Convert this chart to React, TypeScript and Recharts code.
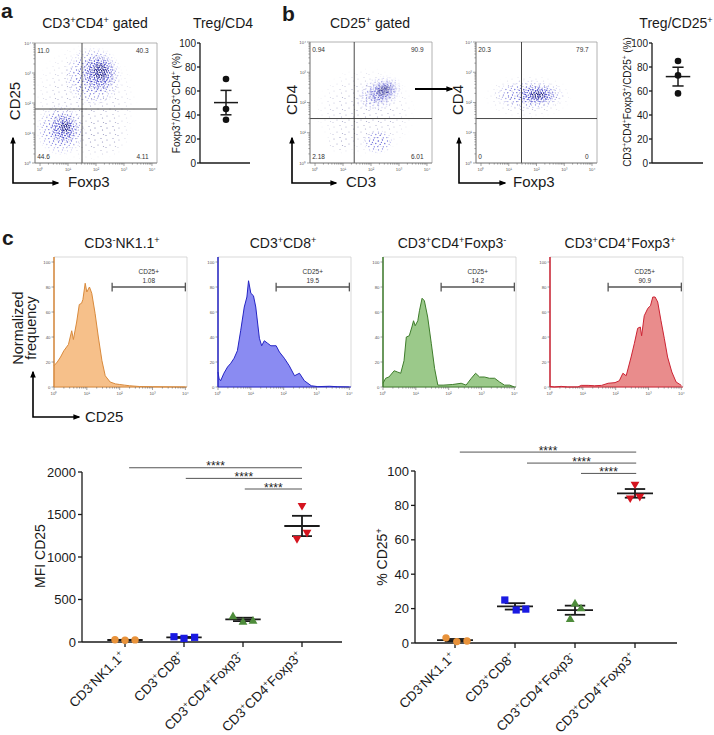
import React from 'react';
import {
  ScatterChart,
  ComposedChart,
  Scatter,
  Area,
  XAxis,
  YAxis,
  ReferenceLine,
  ReferenceArea,
} from 'recharts';

const FONT = '"Liberation Sans", Arial, Helvetica, sans-serif';
const INK = '#1a1a1a';

// ---- panel a / b : Treg frequencies (%) ----
const TREG_CD4 = [70, 45, 36];
const TREG_CD25 = [85, 73, 58];

// ---- flow plots : quadrant % (UL, UR, LL, LR) and gates (log10) ----
const QUAD_A = ['11.0', '40.3', '44.6', '4.11'];
const QUAD_B1 = ['0.94', '90.9', '2.18', '6.01'];
const QUAD_B2 = ['20.3', '79.7', '0', '0'];
const GATE_A = { x: 1.5, y: 1.8 };
const GATE_B1 = { x: 1.4, y: 1.47 };
const GATE_B2 = { x: 1.46, y: 1.47 };

// populations: centre and half spread in log10 units
const CLOUDS_A = [
  { cx: 1.6, cy: 2.0, rx: 1.9, ry: 2.0, kind: 'gray' },
  { cx: 2.3, cy: 0.9, rx: 0.9, ry: 0.75, kind: 'gray' },
  { cx: 1.9, cy: 2.9, rx: 1.05, ry: 1.0, kind: 'sparse' },
  { cx: 2.1, cy: 3.0, rx: 0.65, ry: 0.65, kind: 'dense' },
  { cx: 2.15, cy: 3.05, rx: 0.32, ry: 0.32, kind: 'core' },
  { cx: 0.75, cy: 1.1, rx: 0.9, ry: 0.85, kind: 'sparse' },
  { cx: 0.85, cy: 1.15, rx: 0.52, ry: 0.52, kind: 'dense' },
  { cx: 0.9, cy: 1.2, rx: 0.22, ry: 0.22, kind: 'core' },
];
const CLOUDS_B1 = [
  { cx: 1.8, cy: 1.7, rx: 1.8, ry: 1.5, kind: 'gray' },
  { cx: 2.3, cy: 2.3, rx: 0.9, ry: 0.55, rot: -25, kind: 'sparse' },
  { cx: 2.4, cy: 2.35, rx: 0.6, ry: 0.36, rot: -25, kind: 'dense' },
  { cx: 2.45, cy: 2.4, rx: 0.3, ry: 0.18, rot: -25, kind: 'core' },
  { cx: 2.25, cy: 0.7, rx: 0.55, ry: 0.4, kind: 'sparse' },
  { cx: 0.9, cy: 0.7, rx: 0.5, ry: 0.4, kind: 'gray' },
];
const CLOUDS_B2 = [
  { cx: 1.7, cy: 2.2, rx: 1.6, ry: 0.75, kind: 'gray' },
  { cx: 1.75, cy: 2.25, rx: 1.3, ry: 0.5, kind: 'sparse' },
  { cx: 2.0, cy: 2.25, rx: 0.75, ry: 0.32, kind: 'dense' },
  { cx: 2.05, cy: 2.25, rx: 0.34, ry: 0.16, kind: 'core' },
];

// ---- panel c histograms : log10 CD25 vs normalized frequency ----
const H_NK_X = [0, 0.1, 0.2, 0.3, 0.44, 0.54, 0.59, 0.69, 0.77, 0.84, 0.88, 0.95, 1.0, 1.08, 1.15, 1.25, 1.35, 1.46, 1.56, 1.71, 1.87, 2.0, 2.15, 2.3, 2.6, 3.0, 3.5, 4.0];
const H_NK_Y = [17, 20, 24, 29, 34, 45, 38, 52, 66, 67, 70, 83, 76, 80, 75, 59, 40, 21, 9, 4, 2.5, 2, 1.5, 1, 0.4, 0.2, 0.1, 0];
const H_CD8_X = [0, 0.03, 0.08, 0.18, 0.29, 0.39, 0.49, 0.59, 0.69, 0.8, 0.88, 0.93, 1.0, 1.08, 1.15, 1.26, 1.33, 1.41, 1.51, 1.61, 1.77, 1.87, 2.02, 2.17, 2.33, 2.48, 2.63, 2.84, 3.04, 3.4, 3.65, 4.0];
const H_CD8_Y = [12, 7, 5, 11, 16, 19, 23, 29, 45, 64, 72, 85, 75, 73, 64, 39, 33, 37, 35, 33, 33, 28, 23, 17, 9, 11, 5, 1, 0.3, 0.6, 0.2, 0];
const H_FOXN_X = [0, 0.08, 0.18, 0.34, 0.44, 0.54, 0.64, 0.71, 0.8, 0.88, 0.93, 0.98, 1.06, 1.11, 1.19, 1.26, 1.36, 1.47, 1.57, 1.67, 1.83, 2.12, 2.38, 2.53, 2.69, 2.82, 2.94, 3.09, 3.24, 3.4, 3.55, 3.7, 3.86, 4.0];
const H_FOXN_Y = [3, 7, 8, 13, 12, 11, 21, 40, 41, 48, 53, 49, 53, 61, 71, 69, 56, 35, 15, 1.5, 1.5, 2, 3, 1.5, 7, 11, 8, 8, 7, 7, 4, 1.5, 1.5, 0];
const H_FOXP_X = [0, 0.13, 0.34, 0.54, 0.85, 0.95, 1.16, 1.36, 1.57, 1.77, 1.98, 2.11, 2.22, 2.32, 2.47, 2.57, 2.67, 2.75, 2.79, 2.87, 2.98, 3.06, 3.13, 3.2, 3.28, 3.38, 3.48, 3.58, 3.71, 3.84, 4.0];
const H_FOXP_Y = [0.5, 0, 0.5, 0, 0, 1.3, 1.3, 1, 1.3, 3, 3.5, 5, 11, 9, 24, 35, 47, 48, 41, 57, 63, 65, 72, 72, 68, 53, 39, 24, 12, 4, 1.3];

const GROUPS = ['CD3{-}NK1.1{+}', 'CD3{+}CD8{+}', 'CD3{+}CD4{+}Foxp3{-}', 'CD3{+}CD4{+}Foxp3{+}'];
const GATE_PCT = ['1.08', '19.5', '14.2', '90.9'];

// ---- panel c summary ----
const MFI = [
  [26, 20, 25],
  [62, 43, 55],
  [305, 240, 252],
  [1210, 1600, 1285],
];
const MFI_SPREAD = [
  [-0.17, 0, 0.17],
  [-0.17, 0, 0.18],
  [-0.17, 0, 0.17],
  [-0.085, 0, 0.085],
];
const PCT = [
  [3, 0.8, 1.2],
  [25, 19.2, 19.7],
  [14, 23, 20.2],
  [84, 92, 85],
];
const PCT_SPREAD = [
  [-0.15, 0.03, 0.2],
  [-0.17, 0.02, 0.18],
  [-0.08, 0, 0.1],
  [-0.08, 0, 0.08],
];
// significance brackets: [from group, to group, height]
const MFI_SIG = [
  [0.07, 3.0, 2050],
  [1.03, 3.0, 1925],
  [2.03, 3.0, 1800],
];
const PCT_SIG = [
  [0.08, 3.02, 111],
  [1.2, 3.02, 104.6],
  [2.1, 3.02, 98.6],
];

const GROUP_COLORS = ['#e8923a', '#1a1ae2', '#4e8c3b', '#d5141f'];
const HIST_STROKE = ['#d98a3c', '#2424c4', '#3f7d2c', '#cc2333'];
const HIST_FILL = ['#f6c08a', '#8a8bf2', '#9bc98a', '#e98c8c'];

const LOG_TICKS: number[] = [];
for (let d = 0; d < 4; d++) for (let m = 1; m < 10; m++) LOG_TICKS.push(d + Math.log10(m));
LOG_TICKS.push(4);
const SUPS = ['\u2070', '\u00b9', '\u00b2', '\u00b3', '\u2074'];

const mean = (a: number[]) => a.reduce((s, v) => s + v, 0) / a.length;
const sem = (a: number[]) => {
  const m = mean(a);
  const sd = Math.sqrt(a.reduce((s, v) => s + (v - m) * (v - m), 0) / (a.length - 1));
  return sd / Math.sqrt(a.length);
};

// "CD3{+}" -> superscript tspans
function rich(label: string, fs: number) {
  const parts = label.split(/\{([^}]*)\}/);
  const out: React.ReactNode[] = [];
  let cur = 0;
  parts.forEach((p, i) => {
    if (!p) return;
    const up = i % 2 === 1;
    const target = up ? -fs * 0.38 : 0;
    out.push(
      <tspan key={i} dy={target - cur} fontSize={up ? fs * 0.65 : fs}>
        {p}
      </tspan>
    );
    cur = target;
  });
  return out;
}

const isMajor = (v: number) => Math.abs(v - Math.round(v)) < 1e-6;

const LogTickX = (p: any) => {
  const v = p.payload.value;
  const major = isMajor(v);
  return (
    <g>
      <line x1={p.x} x2={p.x} y1={p.y} y2={p.y + (major ? 3 : 1.6)} stroke="#666" strokeWidth={0.6} />
      {major && (
        <text x={p.x} y={p.y + 8} fontSize={4.3} textAnchor="middle" fill="#555" fontFamily={FONT}>
          10{SUPS[Math.round(v)]}
        </text>
      )}
    </g>
  );
};

const LogTickY = (p: any) => {
  const v = p.payload.value;
  const major = isMajor(v);
  return (
    <g>
      <line x1={p.x} x2={p.x - (major ? 3 : 1.6)} y1={p.y} y2={p.y} stroke="#666" strokeWidth={0.6} />
      {major && (
        <text x={p.x - 4} y={p.y + 1.5} fontSize={4.3} textAnchor="end" fill="#555" fontFamily={FONT}>
          10{SUPS[Math.round(v)]}
        </text>
      )}
    </g>
  );
};

const LinTickY = (p: any) => (
  <g>
    <line x1={p.x} x2={p.x - 2.5} y1={p.y} y2={p.y} stroke="#666" strokeWidth={0.6} />
    <text x={p.x - 3.5} y={p.y + 1.5} fontSize={4.3} textAnchor="end" fill="#555" fontFamily={FONT}>
      {p.payload.value}
    </text>
  </g>
);

const cloudShape = (kind: string, rot = 0) => (p: any) => {
  const w = Math.abs(p.width);
  const h = Math.abs(p.height);
  const cx = p.x + p.width / 2;
  const cy = p.y + p.height / 2;
  return (
    <g clipPath={p.clipPath}>
      <ellipse
        cx={cx}
        cy={cy}
        rx={w / 2}
        ry={h / 2}
        fill={`url(#dots-${kind})`}
        mask="url(#fadeMask)"
        transform={rot ? `rotate(${rot} ${cx} ${cy})` : undefined}
      />
    </g>
  );
};

const QuadLabel = (p: any) => (
  <text x={p.cx} y={p.cy + 2.3} fontSize={6.5} textAnchor={p.payload.a} fill="#333" fontFamily={FONT}>
    {p.payload.t}
  </text>
);

function DotPlot({ left, top, width, height, clouds, quads, gate }: any) {
  const corners: [number, number, string][] = [
    [-0.1, 3.75, 'start'],
    [3.88, 3.75, 'end'],
    [-0.1, 0.22, 'start'],
    [3.88, 0.22, 'end'],
  ];
  const labels = quads.map((t: string, i: number) => ({ x: corners[i][0], y: corners[i][1], t, a: corners[i][2] }));
  return (
    <div style={{ position: 'absolute', left, top }}>
      <ScatterChart width={width} height={height} margin={{ top: 2, right: 2, bottom: 0, left: 0 }}>
        <XAxis
          type="number"
          dataKey="x"
          domain={[-0.18, 4.18]}
          ticks={LOG_TICKS}
          interval={0}
          height={10}
          tickSize={0}
          tickMargin={0}
          tickLine={false}
          axisLine={{ stroke: '#777', strokeWidth: 0.7 }}
          tick={(p: any) => <LogTickX {...p} />}
        />
        <YAxis
          type="number"
          dataKey="y"
          domain={[0, 4]}
          ticks={LOG_TICKS}
          interval={0}
          width={14}
          tickSize={0}
          tickMargin={0}
          tickLine={false}
          axisLine={{ stroke: '#777', strokeWidth: 0.7 }}
          tick={(p: any) => <LogTickY {...p} />}
        />
        <ReferenceArea x1={-0.18} x2={4.18} y1={0} y2={4} fill="none" stroke="#a0a0a0" strokeWidth={0.8} ifOverflow="visible" />
        {clouds.map((c: any, i: number) => (
          <ReferenceArea
            key={i}
            x1={c.cx - c.rx}
            x2={c.cx + c.rx}
            y1={c.cy - c.ry}
            y2={c.cy + c.ry}
            ifOverflow="hidden"
            shape={cloudShape(c.kind, c.rot)}
          />
        ))}
        <ReferenceLine x={gate.x} stroke="#333" strokeWidth={0.9} />
        <ReferenceLine y={gate.y} stroke="#333" strokeWidth={0.9} />
        <Scatter data={labels} isAnimationActive={false} shape={QuadLabel} />
      </ScatterChart>
    </div>
  );
}

function Histo({ left, xs, ys, idx }: any) {
  const data = xs.map((x: number, i: number) => ({ x, y: ys[i] }));
  const stroke = HIST_STROKE[idx];
  const gateStyle = { stroke: '#555', strokeWidth: 1.3 };
  return (
    <div style={{ position: 'absolute', left, top: 255 }}>
      <ComposedChart width={150} height={142} data={data} margin={{ top: 2, right: 3, bottom: 0, left: 0 }}>
        <XAxis
          type="number"
          dataKey="x"
          domain={[0, 4.05]}
          ticks={LOG_TICKS}
          interval={0}
          height={10}
          tickSize={0}
          tickMargin={0}
          tickLine={false}
          axisLine={{ stroke, strokeWidth: 1 }}
          tick={(p: any) => <LogTickX {...p} />}
        />
        <YAxis
          type="number"
          domain={[0, 104]}
          ticks={[0, 20, 40, 60, 80, 100]}
          interval={0}
          width={14}
          tickSize={0}
          tickMargin={0}
          tickLine={false}
          axisLine={{ stroke, strokeWidth: 1.5 }}
          tick={(p: any) => <LinTickY {...p} />}
        />
        <ReferenceArea x1={0} x2={4.05} y1={0} y2={104} fill="none" stroke="#cfcfcf" strokeWidth={0.8} ifOverflow="visible" />
        <Area
          type="linear"
          dataKey="y"
          stroke={stroke}
          strokeWidth={1}
          fill={HIST_FILL[idx]}
          fillOpacity={1}
          dot={false}
          activeDot={false}
          isAnimationActive={false}
        />
        <ReferenceLine
          segment={[{ x: 1.77, y: 80 }, { x: 4.0, y: 80 }]}
          {...gateStyle}
          label={{
            content: (lp: any) => {
              const vb = lp.viewBox || { x: 0, y: 0, width: 0 };
              const cx = vb.x + vb.width / 2;
              return (
                <g fontFamily={FONT} fontSize={6.5} fill="#333" textAnchor="middle">
                  <text x={cx} y={vb.y - 13}>CD25+</text>
                  <text x={cx} y={vb.y - 4}>{GATE_PCT[idx]}</text>
                </g>
              );
            },
          }}
        />
        <ReferenceLine segment={[{ x: 1.77, y: 76.5 }, { x: 1.77, y: 83.5 }]} {...gateStyle} />
        <ReferenceLine segment={[{ x: 4.0, y: 76.5 }, { x: 4.0, y: 83.5 }]} {...gateStyle} />
      </ComposedChart>
    </div>
  );
}

const AX = { stroke: INK, strokeWidth: 1.3 };

function TregPlot({ left, width, marginRight, values, xDomain }: any) {
  const m = mean(values);
  const s = sem(values);
  const data = values.map((v: number) => ({ x: 0, y: v }));
  const ln = { stroke: INK, strokeWidth: 1.5, ifOverflow: 'visible' as const };
  return (
    <div style={{ position: 'absolute', left, top: 35 }}>
      <ScatterChart width={width} height={140} margin={{ top: 8, right: marginRight, bottom: 0, left: 0 }}>
        <XAxis type="number" dataKey="x" domain={xDomain} ticks={[0]} tick={false} tickSize={4} height={12} axisLine={AX} tickLine={AX} />
        <YAxis
          type="number"
          dataKey="y"
          domain={[0, 100]}
          ticks={[0, 20, 40, 60, 80, 100]}
          interval={0}
          width={40}
          tickSize={3}
          tickMargin={1}
          axisLine={AX}
          tickLine={AX}
          tick={{ fontSize: 10, fill: INK, fontFamily: FONT }}
        />
        <Scatter data={data} isAnimationActive={false} shape={(p: any) => <circle cx={p.cx} cy={p.cy} r={3.3} fill="#111" />} />
        <ReferenceLine segment={[{ x: -0.48, y: m }, { x: 0.48, y: m }]} {...ln} />
        <ReferenceLine segment={[{ x: 0, y: m - s }, { x: 0, y: m + s }]} {...ln} />
        <ReferenceLine segment={[{ x: -0.22, y: m - s }, { x: 0.22, y: m - s }]} {...ln} />
        <ReferenceLine segment={[{ x: -0.22, y: m + s }, { x: 0.22, y: m + s }]} {...ln} />
      </ScatterChart>
    </div>
  );
}

const marker = (g: number) => (p: any) => {
  const { cx, cy } = p;
  const c = GROUP_COLORS[g];
  if (g === 0) return <circle cx={cx} cy={cy} r={3.7} fill={c} />;
  if (g === 1) return <rect x={cx - 3.6} y={cy - 3.6} width={7.2} height={7.2} fill={c} />;
  if (g === 2) return <polygon points={`${cx},${cy - 4.6} ${cx - 4.4},${cy + 3.1} ${cx + 4.4},${cy + 3.1}`} fill={c} />;
  return <polygon points={`${cx},${cy + 4.6} ${cx - 4.4},${cy - 3.1} ${cx + 4.4},${cy - 3.1}`} fill={c} />;
};

// category label at 45 degrees, ending just under its tick
const CatTick = (p: any) => {
  const ox = p.x + 1;
  const oy = p.y + 8;
  return (
    <g transform={`translate(${ox} ${oy}) rotate(-45)`}>
      <text x={0} y={0} textAnchor="end" fontSize={13.5} fontFamily={FONT} fill={INK}>
        {rich(GROUPS[p.payload.value], 13.5)}
      </text>
    </g>
  );
};

function GroupPlot({ left, width, yW, mTop, mRight, xH, xDomain, yDomain, yTicks, values, spread, sig }: any) {
  const ln = { stroke: INK, strokeWidth: 1.8, ifOverflow: 'visible' as const };
  return (
    <div style={{ position: 'absolute', left, top: 440 }}>
      <ScatterChart width={width} height={295} margin={{ top: mTop, right: mRight, bottom: 0, left: 0 }}>
        <XAxis
          type="number"
          dataKey="x"
          domain={xDomain}
          ticks={[0, 1, 2, 3]}
          interval={0}
          height={xH}
          tickSize={5}
          tickMargin={2}
          axisLine={AX}
          tickLine={AX}
          tick={(p: any) => <CatTick {...p} />}
        />
        <YAxis
          type="number"
          dataKey="y"
          domain={yDomain}
          ticks={yTicks}
          interval={0}
          width={yW}
          tickSize={4}
          tickMargin={2}
          axisLine={AX}
          tickLine={AX}
          tick={{ fontSize: 13, fill: INK, fontFamily: FONT }}
        />
        {values.map((vals: number[], g: number) => (
          <Scatter
            key={`s${g}`}
            data={vals.map((v, k) => ({ x: g + spread[g][k], y: v }))}
            shape={marker(g)}
            isAnimationActive={false}
          />
        ))}
        {values.map((vals: number[], g: number) => {
          const m = mean(vals);
          const s = sem(vals);
          return (
            <React.Fragment key={`m${g}`}>
              <ReferenceLine segment={[{ x: g - 0.3, y: m }, { x: g + 0.3, y: m }]} {...ln} />
              <ReferenceLine segment={[{ x: g, y: m - s }, { x: g, y: m + s }]} {...ln} />
              <ReferenceLine segment={[{ x: g - 0.17, y: m - s }, { x: g + 0.17, y: m - s }]} {...ln} />
              <ReferenceLine segment={[{ x: g - 0.17, y: m + s }, { x: g + 0.17, y: m + s }]} {...ln} />
            </React.Fragment>
          );
        })}
        {sig.map((b: number[], i: number) => (
          <ReferenceLine
            key={`g${i}`}
            segment={[{ x: b[0], y: b[2] }, { x: b[1], y: b[2] }]}
            stroke="#555"
            strokeWidth={1}
            ifOverflow="visible"
            label={{
              content: (lp: any) => {
                const vb = lp.viewBox || { x: 0, y: 0, width: 0 };
                return (
                  <text x={vb.x + vb.width / 2} y={vb.y + 2.5} textAnchor="middle" fontSize={12} fill="#222" fontFamily={FONT}>
                    ****
                  </text>
                );
              },
            }}
          />
        ))}
      </ScatterChart>
    </div>
  );
}

const DOTS: Record<string, { size: number; color: string; r: number; pts: number[][] }> = {
  gray: { size: 12, color: '#a6a6c8', r: 0.6, pts: [[2, 3], [8, 1.5], [5, 8], [10.5, 9.5], [1, 10.5], [9.5, 5]] },
  sparse: { size: 9, color: '#5555d6', r: 0.65, pts: [[1.5, 2], [5.5, 1], [7.8, 4.5], [3.2, 5.4], [6.3, 7.8], [0.8, 7.6], [4.4, 3.3]] },
  dense: { size: 7, color: '#3030c4', r: 0.7, pts: [[1, 1], [3.5, 1.8], [5.8, 0.7], [2.2, 3.6], [4.8, 4.1], [0.6, 5.6], [3.3, 6.1], [6.2, 5.3], [6.5, 2.9]] },
  core: { size: 5, color: '#1f1f70', r: 0.7, pts: [[1, 1], [3.3, 1.2], [4.4, 3.4], [1.8, 3], [0.5, 4.5], [3, 4.6]] },
};

function Defs() {
  return (
    <svg width={0} height={0} style={{ position: 'absolute', left: 0, top: 0 }}>
      <defs>
        {Object.entries(DOTS).map(([k, d]) => (
          <pattern key={k} id={`dots-${k}`} patternUnits="userSpaceOnUse" width={d.size} height={d.size}>
            {d.pts.map((pt, i) => (
              <circle key={i} cx={pt[0]} cy={pt[1]} r={d.r} fill={d.color} />
            ))}
          </pattern>
        ))}
        <radialGradient id="fadeGrad">
          <stop offset="0" stopColor="#fff" stopOpacity={1} />
          <stop offset="0.55" stopColor="#fff" stopOpacity={0.92} />
          <stop offset="1" stopColor="#fff" stopOpacity={0} />
        </radialGradient>
        <mask id="fadeMask" maskContentUnits="objectBoundingBox">
          <rect x={0} y={0} width={1} height={1} fill="url(#fadeGrad)" />
        </mask>
      </defs>
    </svg>
  );
}

function Txt({ x, y, t, fs = 14, anchor = 'start', bold = false, vertical = false }: any) {
  const common = {
    fontSize: fs,
    fontFamily: FONT,
    fill: INK,
    fontWeight: bold ? 700 : 400,
    textAnchor: vertical ? 'middle' : anchor,
  };
  if (vertical) {
    return (
      <text {...common} x={x} y={y + fs * 0.35} transform={`rotate(-90 ${x} ${y})`}>
        {rich(t, fs)}
      </text>
    );
  }
  return (
    <text {...common} x={x} y={y}>
      {rich(t, fs)}
    </text>
  );
}

function Overlay() {
  const arrow = { fill: 'none', stroke: '#000', strokeWidth: 1.6, markerStart: 'url(#ah)', markerEnd: 'url(#ah)' };
  return (
    <svg width={714} height={735} style={{ position: 'absolute', left: 0, top: 0, pointerEvents: 'none' }}>
      <defs>
        <marker id="ah" viewBox="0 0 10 10" refX="8" refY="5" markerWidth="7" markerHeight="7" markerUnits="userSpaceOnUse" orient="auto-start-reverse">
          <path d="M0,1 L10,5 L0,9 z" fill="#000" />
        </marker>
      </defs>
      <Txt x={1} y={18} t="a" fs={21} bold />
      <Txt x={282} y={21} t="b" fs={21} bold />
      <Txt x={2} y={245} t="c" fs={21} bold />

      <Txt x={95} y={28} t="CD3{+}CD4{+} gated" anchor="middle" />
      <Txt x={223} y={28} t="Treg/CD4" anchor="middle" />
      <Txt x={370} y={28} t="CD25{+} gated" anchor="middle" />
      <Txt x={676} y={28} t="Treg/CD25{+}" anchor="middle" />

      <Txt x={15} y={101} t="CD25" fs={15} vertical />
      <Txt x={292} y={100} t="CD4" fs={15} vertical />
      <Txt x={458} y={100} t="CD4" fs={15} vertical />
      <Txt x={68} y={187} t="Foxp3" fs={15} />
      <Txt x={346} y={187} t="CD3" fs={15} />
      <Txt x={513} y={187} t="Foxp3" fs={15} />
      <Txt x={176.5} y={103} t="Foxp3{+}/CD3{+}CD4{+} (%)" fs={10} vertical />
      <Txt x={627.5} y={102} t="CD3{+}CD4{+}Foxp3{+}/CD25{+} (%)" fs={10} vertical />

      <path d="M13,138 L13,183 L58,183" {...arrow} />
      <path d="M292,138 L292,183 L336,183" {...arrow} />
      <path d="M459,138 L459,183 L505,183" {...arrow} />
      <path d="M415,89 L452,89" fill="none" stroke="#000" strokeWidth={2} markerEnd="url(#ah)" />

      {GROUPS.map((g, i) => (
        <Txt key={g} x={[122, 283, 452, 620][i]} y={248} t={g} anchor="middle" />
      ))}
      <Txt x={18} y={328} t="Normalized" fs={14.5} vertical />
      <Txt x={31} y={328} t="frequency" fs={14.5} vertical />
      <path d="M33,372 L33,417 L79,417" {...arrow} />
      <Txt x={85} y={422} t="CD25" fs={15} />

      <Txt x={40} y={556} t="MFI CD25" fs={14} vertical />
      <Txt x={382} y={557} t="% CD25{+}" fs={14} vertical />
    </svg>
  );
}

export default function App() {
  return (
    <div style={{ position: 'absolute', left: 0, top: 0, width: 714, height: 735, background: '#fff', fontFamily: FONT }}>
      <Defs />
      <DotPlot left={21} top={41} width={138} height={132} clouds={CLOUDS_A} quads={QUAD_A} gate={GATE_A} />
      <TregPlot left={160} width={95} marginRight={5} values={TREG_CD4} xDomain={[-1.04, 0.96]} />
      <DotPlot left={296} top={40} width={138} height={133} clouds={CLOUDS_B1} quads={QUAD_B1} gate={GATE_B1} />
      <DotPlot left={462} top={40} width={137} height={133} clouds={CLOUDS_B2} quads={QUAD_B2} gate={GATE_B2} />
      <TregPlot left={612} width={102} marginRight={11} values={TREG_CD25} xDomain={[-1.02, 0.98]} />

      <Histo left={40} xs={H_NK_X} ys={H_NK_Y} idx={0} />
      <Histo left={204} xs={H_CD8_X} ys={H_CD8_Y} idx={1} />
      <Histo left={369} xs={H_FOXN_X} ys={H_FOXN_Y} idx={2} />
      <Histo left={536} xs={H_FOXP_X} ys={H_FOXP_Y} idx={3} />

      <GroupPlot
        left={0}
        width={360}
        yW={82}
        mTop={32}
        mRight={18}
        xH={93}
        xDomain={[-0.729, 3.678]}
        yDomain={[0, 2000]}
        yTicks={[0, 500, 1000, 1500, 2000]}
        values={MFI}
        spread={MFI_SPREAD}
        sig={MFI_SIG}
      />
      <GroupPlot
        left={360}
        width={354}
        yW={55}
        mTop={31}
        mRight={37}
        xH={92}
        xDomain={[-0.667, 3.7]}
        yDomain={[0, 100]}
        yTicks={[0, 20, 40, 60, 80, 100]}
        values={PCT}
        spread={PCT_SPREAD}
        sig={PCT_SIG}
      />
      <Overlay />
    </div>
  );
}
